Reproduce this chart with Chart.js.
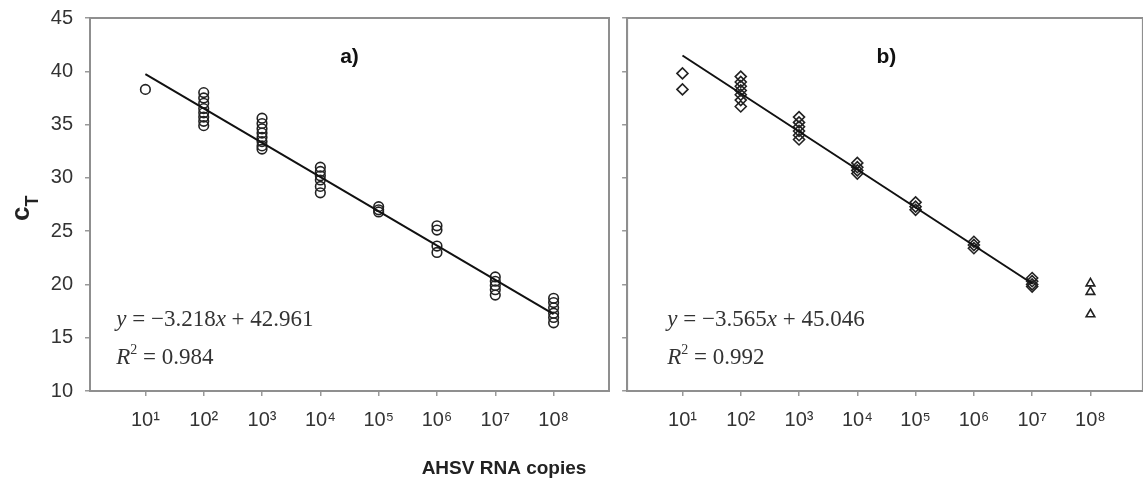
<!DOCTYPE html>
<html lang="en">
<head>
<meta charset="UTF-8">
<title>AHSV RNA standard curves</title>
<script src="https://cdn.jsdelivr.net/npm/chart.js"></script>
<style>
  body { margin: 0; background: #fff; overflow: hidden; }
  #wrap { position: relative; width: 1143px; height: 487px; overflow: hidden; }
  .pane { position: absolute; top: 0; height: 487px; }
</style>
</head>
<body>
<div id="wrap">
  <div class="pane" style="left:0;width:620px"><canvas id="chartA"></canvas></div>
  <div class="pane" style="left:620px;width:530px"><canvas id="chartB"></canvas></div>
</div>
<script>
// x = log10(AHSV RNA copies), y = cT
const xTicks = [1, 2, 3, 4, 5, 6, 7, 8];
const supDigits = ['', '¹', '²', '³', '⁴', '⁵', '⁶', '⁷', '⁸'];

// panel a) circles
const aLog = [1,
  2, 2, 2, 2, 2, 2, 2, 2,
  3, 3, 3, 3, 3, 3, 3, 3,
  4, 4, 4, 4, 4, 4,
  5, 5, 5,
  6, 6, 6, 6,
  7, 7, 7, 7, 7,
  8, 8, 8, 8, 8, 8];
const aCt = [38.3,
  38.0, 37.5, 37.0, 36.5, 36.1, 35.7, 35.3, 34.9,
  35.6, 35.1, 34.6, 34.2, 33.8, 33.4, 33.0, 32.7,
  31.0, 30.6, 30.2, 29.8, 29.2, 28.6,
  27.3, 27.0, 26.8,
  25.5, 25.1, 23.6, 23.0,
  20.7, 20.3, 19.9, 19.5, 19.0,
  18.7, 18.3, 17.8, 17.3, 16.9, 16.4];
const aFitLog = [1, 8];
const aFitCt = [39.74, 17.22];
const aEquation = ['−3.218', '42.961', '0.984'];

// panel b) diamonds (in fit) and triangles (10^8, excluded)
const bLog = [1, 1,
  2, 2, 2, 2, 2, 2, 2,
  3, 3, 3, 3, 3, 3,
  4, 4, 4, 4,
  5, 5, 5,
  6, 6, 6,
  7, 7, 7, 7];
const bCt = [39.8, 38.3,
  39.5, 39.0, 38.6, 38.2, 37.8, 37.3, 36.7,
  35.7, 35.2, 34.8, 34.4, 34.0, 33.6,
  31.4, 31.0, 30.7, 30.4,
  27.7, 27.3, 27.0,
  24.0, 23.7, 23.4,
  20.6, 20.3, 20.0, 19.8];
const bOutLog = [8, 8, 8];
const bOutCt = [20.1, 19.3, 17.2];
const bFitLog = [1, 7];
const bFitCt = [41.48, 20.09];
const bEquation = ['−3.565', '45.046', '0.992'];

const toXY = (xs, ys) => xs.map((x, i) => ({ x: x, y: ys[i] }));

const sans = '"Liberation Sans", Arial, "DejaVu Sans", sans-serif';
const serif = '"Liberation Serif", "Times New Roman", serif';

function drawRuns(ctx, x, y, runs) {
  for (const r of runs) {
    ctx.font = r.font;
    ctx.fillText(r.t, x, y + (r.dy || 0));
    x += ctx.measureText(r.t).width;
  }
}

const panelText = {
  id: 'panelText',
  afterDraw(chart, args, opts) {
    const { ctx, chartArea: a } = chart;
    const sx = chart.scales.x, sy = chart.scales.y;
    ctx.save();
    ctx.strokeStyle = '#8f8f8f';
    ctx.lineWidth = 2;
    ctx.strokeRect(a.left, a.top, a.right - a.left, a.bottom - a.top);

    // panel letter
    ctx.fillStyle = '#111';
    ctx.font = 'bold 21px ' + sans;
    ctx.textAlign = 'center';
    ctx.textBaseline = 'alphabetic';
    ctx.fillText(opts.label, sx.getPixelForValue(4.5), sy.getPixelForValue(40.8));

    // regression equation
    ctx.textAlign = 'left';
    ctx.fillStyle = '#333';
    const reg = '23px ' + serif, it = 'italic 23px ' + serif;
    const ex = sx.getPixelForValue(opts.eqX);
    drawRuns(ctx, ex, sy.getPixelForValue(16.1), [
      { t: 'y', font: it }, { t: ' = ' + opts.eq[0], font: reg },
      { t: 'x', font: it }, { t: ' + ' + opts.eq[1], font: reg }
    ]);
    drawRuns(ctx, ex, sy.getPixelForValue(12.55), [
      { t: 'R', font: it }, { t: '2', font: '14px ' + serif, dy: -10 },
      { t: ' = ' + opts.eq[2], font: reg }
    ]);

    if (opts.axisTitles) {
      ctx.fillStyle = '#222';
      ctx.font = 'bold 19px ' + sans;
      ctx.textAlign = 'center';
      ctx.fillText('AHSV RNA copies', 504, 474);

      ctx.translate(29, 221);
      ctx.rotate(-Math.PI / 2);
      ctx.textAlign = 'left';
      ctx.font = 'bold 26px ' + sans;
      ctx.fillText('c', 0, 0);
      const w = ctx.measureText('c').width;
      ctx.font = 'bold 18px ' + sans;
      ctx.fillText('T', w, 9);
    }
    ctx.restore();
  }
};

function makeConfig(datasets, xMax, yWidth, showYLabels, padRight, text) {
  return {
    type: 'scatter',
    data: { datasets: datasets },
    options: {
      responsive: true,
      maintainAspectRatio: false,
      animation: false,
      layout: { padding: { top: 18, right: padRight, left: 0, bottom: 0 } },
      plugins: { legend: { display: false }, tooltip: { enabled: false }, panelText: text },
      scales: {
        x: {
          type: 'linear', min: 0.05, max: xMax,
          afterBuildTicks: s => { s.ticks = xTicks.map(v => ({ value: v })); },
          afterFit: s => { s.height = 96; s.paddingLeft = 0; s.paddingRight = 0; },
          ticks: {
            autoSkip: false, maxRotation: 0, padding: 12, color: '#333',
            font: { family: sans, size: 20 },
            callback: v => '10' + supDigits[v]
          },
          grid: { drawOnChartArea: false, tickLength: 5, color: '#999', lineWidth: 1.5 },
          border: { color: '#8f8f8f', width: 2 }
        },
        y: {
          min: 10, max: 45,
          afterFit: s => { s.width = yWidth; s.paddingTop = 0; s.paddingBottom = 0; },
          ticks: {
            stepSize: 5, padding: 12, color: '#333',
            font: { family: sans, size: 20 },
            callback: v => showYLabels ? v : ''
          },
          grid: { drawOnChartArea: false, tickLength: 5, color: '#999', lineWidth: 1.5 },
          border: { color: '#8f8f8f', width: 2 }
        }
      }
    },
    plugins: [panelText]
  };
}

const fitStyle = { showLine: true, borderColor: '#111', borderWidth: 2, pointRadius: 0 };
const markStyle = { backgroundColor: 'rgba(255,255,255,0)', borderColor: '#222', borderWidth: 1.6 };

new Chart(document.getElementById('chartA'), makeConfig([
  Object.assign({ label: 'fit a', data: toXY(aFitLog, aFitCt) }, fitStyle),
  Object.assign({ label: 'a', data: toXY(aLog, aCt), pointStyle: 'circle', pointRadius: 4.8 }, markStyle)
], 8.95, 90, true, 11, { label: 'a)', eq: aEquation, eqX: 0.5, axisTitles: true }));

new Chart(document.getElementById('chartB'), makeConfig([
  Object.assign({ label: 'fit b', data: toXY(bFitLog, bFitCt) }, fitStyle),
  Object.assign({ label: 'b', data: toXY(bLog, bCt), pointStyle: 'rectRot', pointRadius: 5.5 }, markStyle),
  Object.assign({ label: 'b 10^8', data: toXY(bOutLog, bOutCt), pointStyle: 'triangle', pointRadius: 5 }, markStyle)
], 8.9, 7, false, 0, { label: 'b)', eq: bEquation, eqX: 0.74, axisTitles: false }));
</script>
</body>
</html>
